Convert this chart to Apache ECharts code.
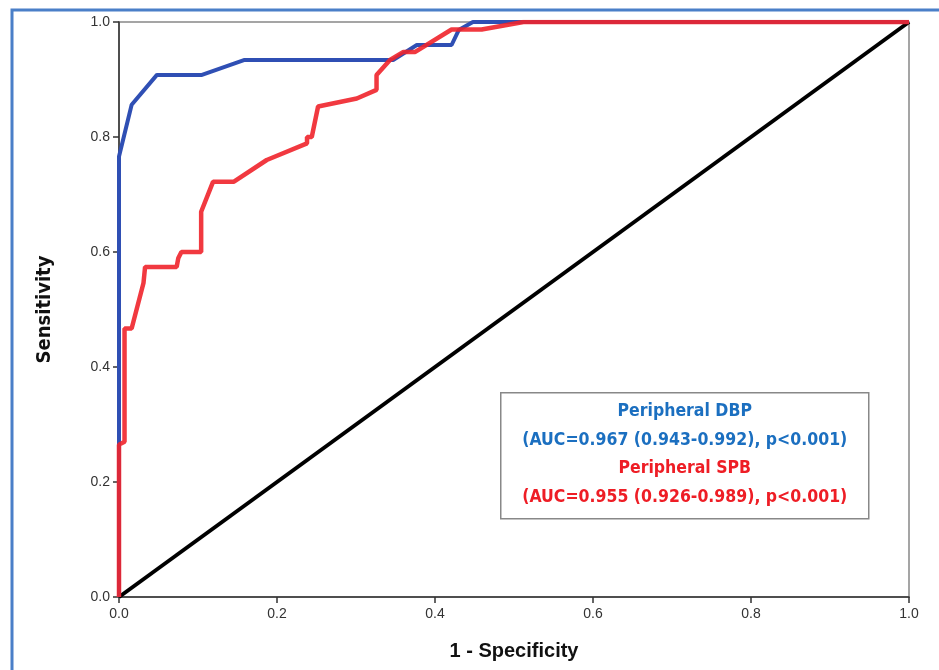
<!DOCTYPE html>
<html>
<head>
<meta charset="utf-8">
<script src="https://cdn.jsdelivr.net/npm/echarts@6/dist/echarts.min.js"></script>
<style>
  html, body { margin: 0; padding: 0; background: #fff; }
  #roc { width: 939px; height: 670px; }
</style>
</head>
<body>
<div id="roc"></div>
<script>
// ROC curves (1 - specificity, sensitivity)
var dbpFpr = [0, 0, 0.016, 0.048, 0.105, 0.159, 0.347, 0.377, 0.421, 0.43, 0.448, 1];
var dbpTpr = [0, 0.766, 0.856, 0.908, 0.908, 0.934, 0.934, 0.96, 0.96, 0.986, 1, 1];

var spbFpr = [0, 0, 0.007, 0.007, 0.016, 0.031, 0.033, 0.073, 0.075, 0.079, 0.104, 0.104, 0.119, 0.145,
  0.187, 0.238, 0.238, 0.244, 0.252, 0.301, 0.326, 0.326, 0.343, 0.36, 0.375, 0.421, 0.459, 0.512, 1];
var spbTpr = [0, 0.265, 0.27, 0.467, 0.467, 0.546, 0.574, 0.574, 0.589, 0.60, 0.60, 0.670, 0.722, 0.722,
  0.760, 0.789, 0.80, 0.80, 0.853, 0.867, 0.882, 0.908, 0.934, 0.948, 0.948, 0.987, 0.987, 1.0, 1.0];

var refFpr = [0, 1];
var refTpr = [0, 1];

var legendLines = [
  ['Peripheral DBP', '#1b6fc0'],
  ['(AUC=0.967 (0.943-0.992), p<0.001)', '#1b6fc0'],
  ['Peripheral SPB', '#ee1d25'],
  ['(AUC=0.955 (0.926-0.989), p<0.001)', '#ee1d25']
];

function pairs(xs, ys) {
  return xs.map(function (x, i) { return [x, ys[i]]; });
}

var dom = document.getElementById('roc');
var myChart = echarts.init(dom, null, { renderer: 'canvas' });

var axisText = { color: '#333', fontFamily: 'Liberation Sans', fontSize: 14 };

// legend box texts
var legendTexts = legendLines.map(function (l, i) {
  return {
    type: 'text',
    left: 'center',
    top: 10 + i * 28.5,
    style: {
      text: l[0],
      fill: l[1],
      font: 'bold 17.5px "DejaVu Sans Condensed", sans-serif'
    }
  };
});

var option = {
  backgroundColor: '#fff',
  animation: false,
  grid: {
    left: 119, right: 30, top: 22, bottom: 73,
    show: true, borderColor: '#888', borderWidth: 1.5
  },
  xAxis: {
    type: 'value',
    min: 0, max: 1, interval: 0.2,
    name: '1 - Specificity',
    nameLocation: 'middle',
    nameGap: 44,
    nameTextStyle: { color: '#111', fontFamily: 'Liberation Sans', fontWeight: 'bold', fontSize: 20 },
    axisLine: { lineStyle: { color: '#333', width: 1.5 } },
    axisTick: { show: true, length: 6, lineStyle: { color: '#333', width: 1.5 } },
    axisLabel: Object.assign({ margin: 10, formatter: function (v) { return v.toFixed(1); } }, axisText),
    splitLine: { show: false }
  },
  yAxis: {
    type: 'value',
    min: 0, max: 1, interval: 0.2,
    name: 'Sensitivity',
    nameLocation: 'middle',
    nameGap: 64,
    nameRotate: 90,
    nameTextStyle: { color: '#111', fontFamily: 'DejaVu Sans Condensed', fontWeight: 'bold', fontSize: 20 },
    axisLine: { show: true, lineStyle: { color: '#333', width: 1.5 } },
    axisTick: { show: true, length: 6, lineStyle: { color: '#333', width: 1.5 } },
    axisLabel: Object.assign({ margin: 9, formatter: function (v) { return v.toFixed(1); } }, axisText),
    splitLine: { show: false }
  },
  series: [
    {
      type: 'line',
      data: pairs(refFpr, refTpr),
      showSymbol: false,
      lineStyle: { color: '#000', width: 4 },
      z: 2
    },
    {
      name: 'Peripheral DBP',
      type: 'line',
      data: pairs(dbpFpr, dbpTpr),
      showSymbol: false,
      lineStyle: { color: '#2f4fb4', width: 4 },
      z: 3
    },
    {
      name: 'Peripheral SPB',
      type: 'line',
      data: pairs(spbFpr, spbTpr),
      showSymbol: false,
      lineStyle: { color: '#f0232b', width: 4.5, opacity: 0.9 },
      z: 4
    }
  ],
  graphic: [
    {
      // blue frame around the figure
      type: 'rect',
      shape: { x: 12, y: 10, width: 960, height: 700 },
      style: { fill: null, stroke: '#4a7fc8', lineWidth: 3 },
      silent: true
    },
    {
      type: 'group',
      left: 500,
      top: 392,
      width: 368,
      height: 126,
      children: [
        {
          type: 'rect',
          shape: { x: 0, y: 0, width: 368, height: 126 },
          style: { fill: '#fff', stroke: '#888', lineWidth: 1.5 }
        }
      ].concat(legendTexts)
    }
  ]
};

myChart.setOption(option);
window.addEventListener('resize', myChart.resize);
</script>
</body>
</html>
